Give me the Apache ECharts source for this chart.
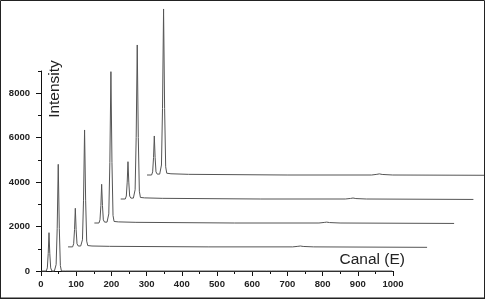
<!DOCTYPE html>
<html>
<head>
<meta charset="utf-8">
<script src="https://cdn.jsdelivr.net/npm/echarts@6/dist/echarts.min.js"></script>
<style>
  html, body { margin: 0; padding: 0; background: #fff; }
  #chart { width: 485px; height: 299px; }
</style>
</head>
<body>
<div id="chart"></div>
<script>
// Waterfall of 5 spectra: shared relative channel grid, each spectrum shifted in x and y
const channelRel = [2, 15, 18, 20.5, 22.7, 25, 27.5, 31, 38, 43, 46, 49, 52, 55, 58, 70, 120, 400, 640, 655, 662, 670, 700];
const channelEnd = [998, 1022, 1024, 1004, 1110];
const xShift = [0, 74.8, 149.6, 224.4, 299.2];
const yShift = [0, 1085, 2160, 3240, 4320];

const spec1 = [0, 0, 140, 780, 1724, 780, 140, 0, 0, 290, 1920, 4800, 1920, 240, 0, 0, 0, 0, 0, 0, 0, 0, 0];
const spec2 = [0, 0, 140, 780, 1737, 780, 140, 40, 40, 320, 2100, 5261, 2100, 260, 60, 40, 25, 0, 0, 25, 40, 20, 0];
const spec3 = [0, 0, 140, 790, 1742, 790, 140, 40, 40, 410, 2720, 6810, 2720, 340, 70, 50, 30, 0, 0, 25, 40, 20, 0];
const spec4 = [0, 0, 135, 760, 1679, 760, 135, 40, 40, 415, 2770, 6931, 2770, 350, 70, 50, 30, 0, 0, 25, 45, 20, 0];
const spec5 = [0, 0, 140, 790, 1756, 790, 140, 40, 40, 450, 2990, 7471, 2990, 370, 80, 55, 30, 0, 0, 30, 50, 25, 0];
const endLevel = [0, -20, -20, -20, -20];
const spectra = [spec1, spec2, spec3, spec4, spec5];

const xTicks = [0, 100, 200, 300, 400, 500, 600, 700, 800, 900, 1000];
const yTickLabels = [0, 2000, 4000, 6000, 8000];
const yMinorTicks = [0, 1000, 2000, 3000, 4000, 5000, 6000, 7000, 8000, 9000];
const X_MAX = 1000, Y_MAX = 9000;

const FONT = '"Liberation Sans", Arial, sans-serif';
const W = 485, H = 299;
const G = { left: 41, right: 92, top: 71, bottom: 28 };
// second (hidden) grid sharing the same scale but reaching the canvas edges, so spectra may overflow the axes
const plotW = W - G.left - G.right, plotH = H - G.top - G.bottom;
const G2 = { left: G.left, right: 0, top: 0, bottom: G.bottom };
const x2Max = X_MAX * (W - G2.left - G2.right) / plotW;
const y2Max = Y_MAX * (H - G2.top - G2.bottom) / plotH;

const series = spectra.map((vals, k) => {
  const data = channelRel.map((c, i) => [c + xShift[k], vals[i] + yShift[k]]);
  data.push([channelEnd[k] + xShift[k], endLevel[k] + yShift[k]]);
  return {
    type: 'line',
    xAxisIndex: 1, yAxisIndex: 2,
    data: data,
    symbol: 'none',
    clip: false,
    lineStyle: { color: '#555', width: 1 },
    z: 3
  };
});

const plain = v => String(v);

const chart = echarts.init(document.getElementById('chart'), null, { renderer: 'canvas' });
chart.setOption({
  animation: false,
  backgroundColor: '#fff',
  grid: [G, G2],
  xAxis: [{
    gridIndex: 0, type: 'value', min: 0, max: X_MAX, interval: 100,
    splitLine: { show: false },
    axisLine: { lineStyle: { color: '#111', width: 1 } },
    axisTick: { length: 5, lineStyle: { color: '#111' } },
    minorTick: { show: true, splitNumber: 2, length: 3, lineStyle: { color: '#111' } },
    axisLabel: { margin: 8, color: '#222', fontWeight: 'bold', fontSize: 9.5, fontFamily: FONT,
      customValues: xTicks, formatter: plain },
    name: 'Canal (E)', nameLocation: 'end', nameGap: 12,
    nameTextStyle: { align: 'right', verticalAlign: 'bottom', fontSize: 15.5, color: '#222',
      fontFamily: FONT, padding: [0, 0, 3, 0] }
  }, {
    gridIndex: 1, type: 'value', min: 0, max: x2Max, show: false,
    splitLine: { show: false }
  }],
  yAxis: [{
    gridIndex: 0, type: 'value', min: 0, max: Y_MAX, interval: 1000, position: 'left',
    splitLine: { show: false },
    axisLine: { show: true, lineStyle: { color: '#111', width: 1 } },
    axisTick: { show: true, length: 5, lineStyle: { color: '#111' }, customValues: yTickLabels },
    axisLabel: { margin: 11, color: '#222', fontWeight: 'bold', fontSize: 9.5, fontFamily: FONT,
      customValues: yTickLabels, formatter: plain }
  }, {
    gridIndex: 0, type: 'value', min: 0, max: Y_MAX, interval: 1000, position: 'left', offset: 0,
    splitLine: { show: false },
    axisLine: { show: false },
    axisTick: { show: true, length: 3, lineStyle: { color: '#111' }, customValues: yMinorTicks },
    axisLabel: { show: false }
  }, {
    gridIndex: 1, type: 'value', min: 0, max: y2Max, show: false,
    splitLine: { show: false }
  }],
  graphic: [
    { type: 'text', x: 55, y: 89, rotation: Math.PI / 2,
      style: { text: 'Intensity', fill: '#222', font: '15.5px ' + FONT, align: 'center', verticalAlign: 'middle' } },
    { type: 'rect', shape: { x: 0.5, y: 0.5, width: 484, height: 297.5 },
      style: { fill: null, stroke: '#222', lineWidth: 1 }, z: 10 },
    { type: 'line', shape: { x1: 0, y1: 298.5, x2: 485, y2: 298.5 },
      style: { stroke: '#222', lineWidth: 1 }, z: 10 }
  ],
  series: series
});
</script>
</body>
</html>
